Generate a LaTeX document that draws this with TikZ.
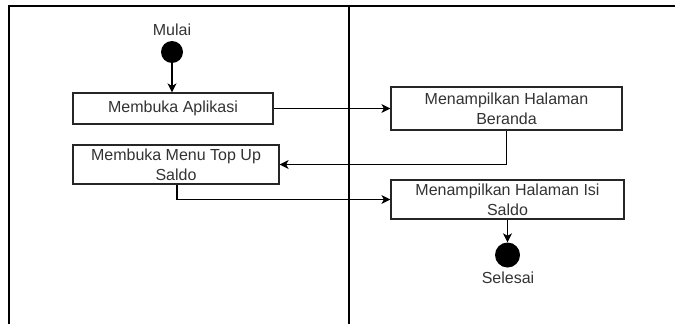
\documentclass[tikz,border=0pt]{standalone}
\usepackage{fontspec}
\setmainfont{Liberation Sans}
\usetikzlibrary{arrows.meta}

\begin{document}
\begin{tikzpicture}[x=1pt,y=-1pt,font=\fontsize{16}{20}\selectfont,
  lane/.style={line width=2.2pt,line join=miter},
  actbox/.style={draw=black!85,line width=1.2pt,fill=white,text=black!80,align=center,inner sep=0pt},
  statedot/.style={circle,fill=black,inner sep=0pt},
  flow/.style={line width=1.2pt,-{Stealth[length=9pt,width=9pt,inset=2.5pt]}},
  caption/.style={text=black!80}]
\useasboundingbox (0,0) rectangle (676,324);

% swimlanes
\draw[lane] (675,6) -- (9,6) -- (9,324);
\draw[lane] (349,6) -- (349,324);

\node[caption] (mulai) at (172,30) {Mulai};
\node[statedot,minimum size=22pt] (start) at (172,52) {};
\node[actbox,minimum width=200pt,minimum height=31pt] (buka) at (173,108.5) {Membuka Aplikasi};
\node[actbox,minimum width=231pt,minimum height=43pt] (beranda) at (506.5,108.5) {Menampilkan Halaman\\Beranda};
\node[actbox,minimum width=206pt,minimum height=39pt] (topup) at (176,164.5) {Membuka Menu Top Up\\Saldo};
\node[actbox,minimum width=233pt,minimum height=39pt] (isisaldo) at (507.5,199.5) {Menampilkan Halaman Isi\\Saldo};
\node[statedot,minimum size=25pt] (selesaidot) at (507.5,255) {};
\node[caption] (selesai) at (508,278) {Selesai};

% flow
\draw[flow] (start) -- (start |- buka.north);
\draw[flow] (buka) -- (beranda);
\draw[flow] (beranda.south) |- (topup.east);
\draw[flow] ([xshift=1pt]topup.south) |- (isisaldo.west);
\draw[flow] (isisaldo) -- (selesaidot);
\end{tikzpicture}
\end{document}
